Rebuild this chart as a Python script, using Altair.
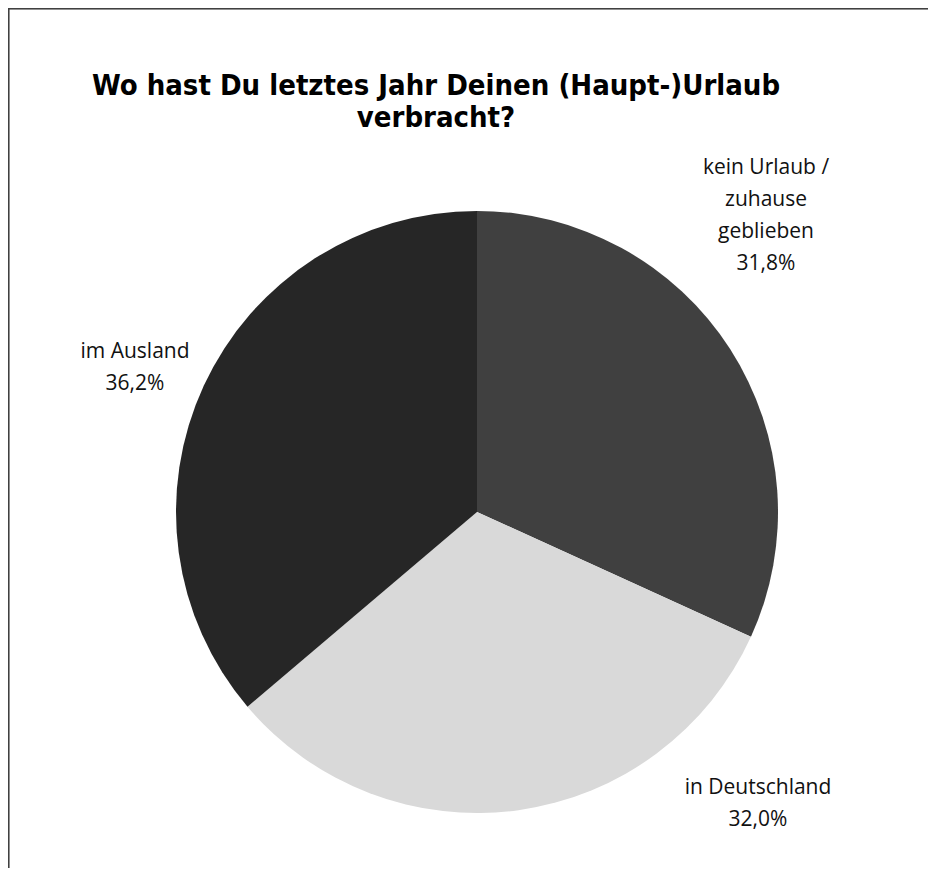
import altair as alt
import pandas as pd

categories = ["kein Urlaub / zuhause geblieben", "in Deutschland", "im Ausland"]
label_lines = [["kein Urlaub /", "zuhause", "geblieben"], ["in Deutschland"], ["im Ausland"]]
values = [31.8, 32.0, 36.2]
colors = ["#404040", "#d9d9d9", "#262626"]
title_lines = ["Wo hast Du letztes Jahr Deinen (Haupt-)Urlaub", "verbracht?"]

def pct(v):
    return f"{v:.1f}".replace(".", ",") + "%"

df = pd.DataFrame({
    "category": categories,
    "value": values,
    "order": list(range(len(categories))),
    "label": [lines + [pct(v)] for lines, v in zip(label_lines, values)],
})

W, H = 920, 860
CX, CY, R = 469, 504, 301

pie = alt.Chart(df).mark_arc(radius=R, x=CX, y=CY, stroke=None).encode(
    theta=alt.Theta("value:Q", stack=True),
    order=alt.Order("order:Q"),
    color=alt.Color("category:N", scale=alt.Scale(domain=categories, range=colors), legend=None),
)

label_pos = [(758, 160), (750, 780), (127, 344)]
text_layers = []
for i, (lx, ly) in enumerate(label_pos):
    t = alt.Chart(df.iloc[[i]]).mark_text(
        x=lx, y=ly, align="center", baseline="middle",
        font="Open Sans", fontSize=21, lineHeight=32, color="#111111",
    ).encode(text="label")
    text_layers.append(t)

title_df = pd.DataFrame({"t": [title_lines]})
title = alt.Chart(title_df).mark_text(
    x=428, y=78, align="center", baseline="middle",
    font="DejaVu Sans Condensed, Liberation Sans Narrow, sans-serif",
    fontWeight="bold", fontSize=29, lineHeight=32, color="#000000",
).encode(text="t")

frame_top = alt.Chart(df).mark_rule(color="#404040", strokeWidth=2.5).encode(
    x=alt.value(0), x2=alt.value(W), y=alt.value(0))
frame_left = alt.Chart(df).mark_rule(color="#404040", strokeWidth=2.5).encode(
    x=alt.value(0), y=alt.value(0), y2=alt.value(H))

chart = alt.layer(pie, *text_layers, title, frame_top, frame_left).properties(
    width=W, height=H, padding=0, autosize=alt.AutoSizeParams(type="none"),
    background="white",
).configure_view(stroke=None)

chart.save("out.html", embed_options={"renderer": "svg", "actions": False})
